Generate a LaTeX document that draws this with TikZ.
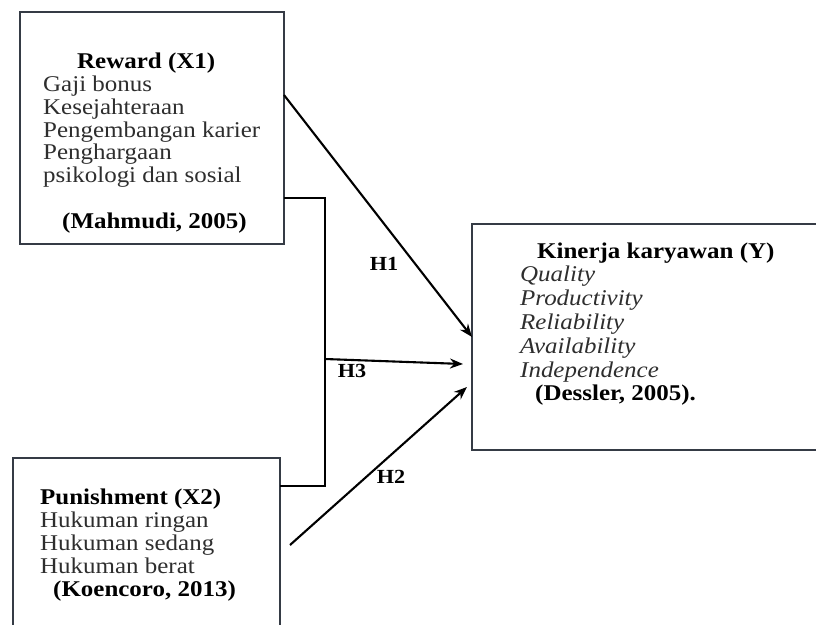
\documentclass[tikz,border=0pt]{standalone}
\usepackage{fontspec}
\setmainfont[FakeStretch=1.11]{Liberation Serif}
\usetikzlibrary{arrows.meta}
\definecolor{boxc}{HTML}{353B45}
\definecolor{txt}{HTML}{2E2E2E}
\begin{document}
\begin{tikzpicture}[x=1pt,y=-1pt,
  box/.style={draw=boxc, line width=2pt, inner sep=0pt, outer sep=0pt, anchor=north west},
  bt/.style={font=\bfseries\fontsize{22.5}{24}\selectfont, text=black, anchor=base west, inner sep=0pt},
  tt/.style={font=\fontsize{22.5}{24}\selectfont, text=txt, anchor=base west, inner sep=0pt},
  it/.style={font=\itshape\fontsize{22.5}{24}\selectfont, text=txt, anchor=base west, inner sep=0pt},
  hl/.style={font=\bfseries\fontsize{20}{22}\selectfont, text=black, inner sep=0pt},
  ln/.style={draw=black, line width=2pt},
  arr/.style={draw=black, line width=2.1pt, -{Stealth[length=13pt,width=10pt]}}]
\useasboundingbox (0,0) rectangle (816,624);
\clip (0,0) rectangle (816,624);
\fill[white] (0,0) rectangle (816,624);

% boxes
\node[box, minimum width=264pt, minimum height=232pt] (x1) at (20,12) {};
\node[box, minimum width=267pt, minimum height=200pt] (x2) at (13,458) {};
\node[box, minimum width=370pt, minimum height=226pt] (y) at (472,224) {};

% X1 text
\node[bt] (x1t) at (77,68) {Reward (X1)};
\node[tt] (x1a) at (43,91) {Gaji bonus};
\node[tt] (x1b) at (43,114) {Kesejahteraan};
\node[tt] (x1c) at (43,137) {Pengembangan karier};
\node[tt] (x1d) at (43,159) {Penghargaan};
\node[tt] (x1e) at (43,182) {psikologi dan sosial};
\node[bt] (x1s) at (62,228) {(Mahmudi, 2005)};

% Y text
\node[bt] (yt) at (537,258) {Kinerja karyawan (Y)};
\node[it] (ya) at (520,281) {Quality};
\node[it] (yb) at (520,305) {Productivity};
\node[it] (yc) at (520,329) {Reliability};
\node[it] (yd) at (520,353) {Availability};
\node[it] (ye) at (520,377) {Independence};
\node[bt] (ys) at (535,400) {(Dessler, 2005).};

% X2 text
\node[bt] (x2t) at (40,504) {Punishment (X2)};
\node[tt] (x2a) at (40,527) {Hukuman ringan};
\node[tt] (x2b) at (40,550) {Hukuman sedang};
\node[tt] (x2c) at (40,573) {Hukuman berat};
\node[bt] (x2s) at (53,596) {(Koencoro, 2013)};

% connector points
\coordinate (h1s) at ([yshift=-83pt]x1.north east);
\coordinate (brs) at ([yshift=-186pt]x1.north east);
\coordinate (bre) at ([yshift=-28pt]x2.north east);
\coordinate (jn) at (325,359);
\coordinate (h3e) at ([xshift=-9pt,yshift=-27pt]y.west);
\coordinate (h2s) at ([xshift=10pt,yshift=-87pt]x2.north east);
\coordinate (h2e) at ([xshift=-5pt,yshift=-50pt]y.west);

% connectors
\draw[arr] (h1s) -- (y.west);
\draw[ln] (brs) -| (jn) |- (bre);
\draw[arr] (jn) -- (h3e);
\draw[arr] (h2s) -- (h2e);

% labels
\node[hl] (lh1) at (384,264) {H1};
\node[hl] (lh3) at (352,371) {H3};
\node[hl] (lh2) at (391,477) {H2};
\end{tikzpicture}
\end{document}
